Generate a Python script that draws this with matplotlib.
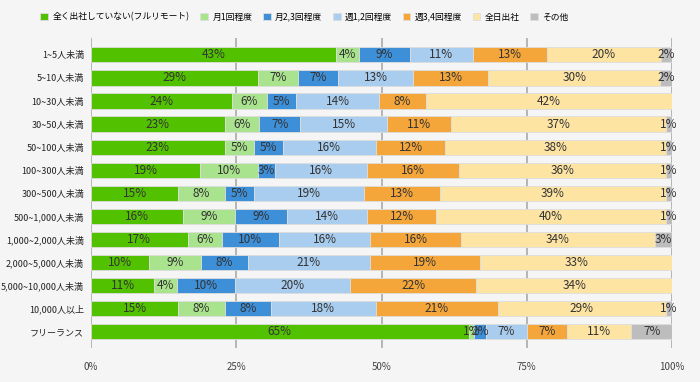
import matplotlib.pyplot as plt
import numpy as np

plt.rcParams['font.family'] = ['Noto Sans CJK JP', 'DejaVu Sans']

categories = ["1~5人未満", "5~10人未満", "10~30人未満", "30~50人未満", "50~100人未満",
              "100~300人未満", "300~500人未満", "500~1,000人未満", "1,000~2,000人未満",
              "2,000~5,000人未満", "5,000~10,000人未満", "10,000人以上", "フリーランス"]
series = ["全く出社していない(フルリモート)", "月1回程度", "月2,3回程度", "週1,2回程度",
          "週3,4回程度", "全日出社", "その他"]

full_remote = [43, 29, 24, 23, 23, 19, 15, 16, 17, 10, 11, 15, 65]
monthly_1 = [4, 7, 6, 6, 5, 10, 8, 9, 6, 9, 4, 8, 1]
monthly_23 = [9, 7, 5, 7, 5, 3, 5, 9, 10, 8, 10, 8, 2]
weekly_12 = [11, 13, 14, 15, 16, 16, 19, 14, 16, 21, 20, 18, 7]
weekly_34 = [13, 13, 8, 11, 12, 16, 13, 12, 16, 19, 22, 21, 7]
every_day = [20, 30, 42, 37, 38, 36, 39, 40, 34, 33, 34, 29, 11]
other = [2, 2, 0, 1, 1, 1, 1, 1, 3, 0, 0, 1, 7]

colors = ["#52c200", "#a9e38d", "#3d8fd8", "#a9cdee", "#f4a63a", "#fde4a3", "#bdbdbd"]

data = np.array([full_remote, monthly_1, monthly_23, weekly_12, weekly_34, every_day, other], dtype=float)
shares = data / data.sum(axis=0) * 100  # 100% stacked

fig = plt.figure(figsize=(7, 3.82), dpi=100)
fig.patch.set_facecolor("#f5f5f5")
ax = fig.add_axes([91 / 700, 1 - 348 / 382, 581 / 700, 310 / 382])
ax.set_facecolor("#f5f5f5")

y = np.arange(len(categories))
left = np.zeros(len(categories))
for i, name in enumerate(series):
    ax.barh(y, shares[i], left=left, height=0.66, color=colors[i], label=name,
            edgecolor="#dddddd", linewidth=0.6, zorder=2)
    for j in range(len(categories)):
        if data[i, j] > 0:
            ax.text(left[j] + shares[i, j] / 2, y[j], f"{int(data[i, j])}%",
                    ha="center", va="center", fontsize=8.5, color="#333333", zorder=3)
    left += shares[i]

ax.set_xlim(0, 100)
ax.set_ylim(len(categories) - 1 + 0.7, -0.73)
ax.set_xticks([0, 25, 50, 75, 100])
ax.set_xticklabels(["0%", "25%", "50%", "75%", "100%"], fontsize=7, color="#444444")
ax.set_yticks(y)
ax.set_yticklabels(categories, fontsize=6.5, color="#222222")
ax.tick_params(length=0, pad=5)
ax.tick_params(axis="x", pad=10)
ax.grid(axis="x", color="#aaaaaa", linewidth=1.2, zorder=0)
ax.set_axisbelow(True)
for s in ax.spines.values():
    s.set_visible(False)

fig.legend(loc="center left", bbox_to_anchor=(36 / 700, 1 - 17 / 382), ncol=7, frameon=False,
           fontsize=6.3, handlelength=0.9, handleheight=0.9, columnspacing=1.2,
           handletextpad=0.5, borderpad=0)

fig.savefig("out.png", dpi=100, facecolor=fig.get_facecolor())
